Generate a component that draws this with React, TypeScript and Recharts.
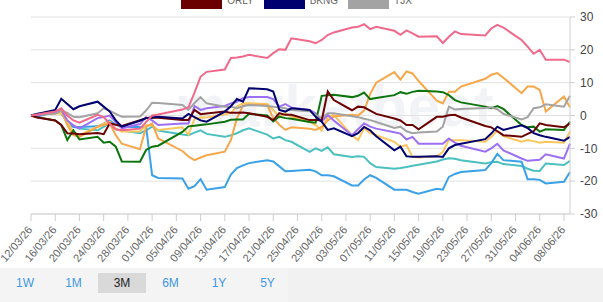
import React from 'react';
import { LineChart, Line, XAxis, YAxis, CartesianGrid } from 'recharts';

// trading sessions shown on the chart
const tradingDays = [
  '2026-03-12', '2026-03-13', '2026-03-16', '2026-03-17', '2026-03-18', '2026-03-19', '2026-03-20',
  '2026-03-23', '2026-03-24', '2026-03-25', '2026-03-26', '2026-03-27', '2026-03-30', '2026-03-31',
  '2026-04-01', '2026-04-02', '2026-04-06', '2026-04-07', '2026-04-08', '2026-04-09', '2026-04-10',
  '2026-04-13', '2026-04-14', '2026-04-15', '2026-04-16', '2026-04-17', '2026-04-20', '2026-04-21',
  '2026-04-22', '2026-04-23', '2026-04-24', '2026-04-27', '2026-04-28', '2026-04-29', '2026-04-30',
  '2026-05-01', '2026-05-04', '2026-05-05', '2026-05-06', '2026-05-07', '2026-05-08', '2026-05-11',
  '2026-05-12', '2026-05-13', '2026-05-14', '2026-05-15', '2026-05-18', '2026-05-19', '2026-05-20',
  '2026-05-21', '2026-05-22', '2026-05-26', '2026-05-27', '2026-05-28', '2026-05-29',
  '2026-06-01', '2026-06-02', '2026-06-03', '2026-06-04', '2026-06-05', '2026-06-08', '2026-06-09',
];

const tickLabels = [
  '12/03/26', '16/03/26', '20/03/26', '24/03/26', '28/03/26', '01/04/26', '05/04/26', '09/04/26',
  '13/04/26', '17/04/26', '21/04/26', '25/04/26', '29/04/26', '03/05/26', '07/05/26', '11/05/26',
  '15/05/26', '19/05/26', '23/05/26', '27/05/26', '31/05/26', '04/06/26', '08/06/26',
];

const yTicks = [-30, -20, -10, 0, 10, 20, 30];

// % change since the first session
const rose = [
  0, 0.3, 1.2, 2.2, 0, -1.5, -2.2, 0.2, -0.5, -2.5, -4.2, -4.5, -4, -2,
  0, 0.3, 1.8, 2.5, 7, 11.8, 13.3, 14, 17.5, 17.7, 18, 18.5, 17.5, 19, 20.2, 20, 23.5, 22.6, 22, 23, 24.5,
  25.3, 26.8, 27, 27.8, 26.3, 27, 25.8, 24.6, 25.9, 25, 24, 24.1, 22.1, 24, 25.6, 24.8, 24.4, 26.5, 27.6, 26.8,
  23, 21, 18.8, 20, 17, 17, 16.3,
];
const sky = [
  0, -0.3, 1.0, 1.5, -2.5, -3.5, -3.5, -3.3, -2.5, -1.5, -2.8, -3.5, -3.5, -3.4,
  -18.2, -19, -19.2, -22.3, -21.5, -19.4, -22.6, -21.8, -18, -16, -15.2, -14.5, -13.6, -14, -15.5, -17, -16.9, -16.5, -17, -18.2, -18.2,
  -18.5, -21.3, -21.3, -19.5, -18.2, -19, -22.6, -22.6, -22.6, -23.3, -23.8, -22.3, -22.6, -18.7, -17.8, -17.2, -16.6, -14.5, -11.7, -13.6,
  -14.1, -19.4, -19.4, -19.6, -20.7, -20.2, -17.2,
];
const amber = [
  0, 0.3, 1.2, 1.7, -3, -6, -6.5, -3.5, -2.9, -2.4, -6, -8.6, -10.3, -3.5,
  -2.4, -7, -10.8, -12.5, -13.6, -12.8, -12.1, -11, -7.5, -0.9, 3, 3.3, 3.2, -0.8, -2.8, -4.4, -3.6, -4, -4.4, -3.5, -1.5,
  -0.3, 0.2, 0, 1.5, 6.5, 10, 13.2, 10.9, 13.4, 12.8, 10.5, 4.5, 3.7, 7.2, 7.2, 8.8, 11.2, 12.4, 12.9, 11.5,
  6.8, 8.8, 8.8, 7.8, 1.2, 5.8, 2.5,
];
const green = [
  0, -0.5, -1.5, -2.9, -7.5, -4.5, -7.3, -6.5, -8.3, -8, -9.5, -14, -14.1, -10.5,
  -9.5, -9.2, -5, -3.3, -3.1, -2.9, -2.7, -1.9, -1.3, -1.2, -1.2, 0.5, 0, -1.8, -0.3, -0.8, -1, -2, -2.2, 6, 6.2,
  6.3, 5.6, 6, 7, 5, 5.3, 6.2, 7.1, 6.6, 7.2, 7.5, 7.3, 7.1, 6.2, 4.7, 4, 2.7, 2.2, 2.9, 2,
  -2.9, -3.6, -3.4, -4.9, -4.2, -4.4, -1.9,
];
const orly = [
  0, -0.6, -1.5, -2.9, -5.4, -5.5, -5.7, -5.3, -5.7, -2.4, -2.8, -3.2, -1.4, -0.8,
  -0.6, -0.7, -1.4, -1.4, 1.7, 0.4, 0.6, 1.2, 0.8, 0.8, 0.9, 0.7, -0.4, -1.4, 0.7, 0.2, 0.2, -1.4, -1.4, -1.5, 7.3,
  4.7, 1.6, 2.7, 2.5, 1.5, 0.5, -0.9, -1.5, -2.9, -2.9, -4.2, -0.4, -0.4, 0.1, 0.2, -0.6, -3.2, -3.6, -4.8, -6,
  -6.5, -5.6, -4.8, -2.4, -2.9, -3.6, -2.4,
];
const bkng = [
  0, 0.5, 1.7, 5.1, 3.5, 1.9, 2.8, 4.2, 2.7, 1.2, -1.5, -3.4, -1.6, -0.8,
  -0.6, -0.4, -0.9, 0.5, -0.5, -1.5, -1.9, 1.2, 2.8, 5, 4.2, 8.3, 8, 7.3, 1.7, 1.2, 2.2, 1.7, -0.4, -1.9, -4.4,
  -3.9, -6.3, -5.4, -3.5, -4.5, -6.3, -10.6, -9.5, -12.4, -12.6, -12.6, -12.4, -12.6, -10, -9, -8.6, -7.2, -5.5, -3.4, -4.4,
  -3, -3.8, -5.4, -6, -6.5, -7.7, -6.5,
];
const tjx = [
  0, 0.3, 0.5, 1.5, 0.8, -0.4, -0.5, 0.7, 2.2, 1.5, 0.5, -0.4, -0.3, 1.5,
  3.9, 3.8, 3.2, 1.7, 3.8, 5.6, 3.7, 2.7, 2.7, 2.2, 2.8, 3.2, 2.9, 2.7, 2.4, 2.2, 1.7, 1.3, 0.2, -0.8, 0.7,
  0.7, -0.2, -0.5, -1, -1.4, -2, -3.8, -3.4, -4.8, -5.4, -5.2, -4.9, -3.4, 2.7, 1.8, 2, 2.3, 2.5, 1.9, 0.5,
  -1.2, -0.5, 2.2, 2.5, 3.4, 2.7, 6,
];
const violet = [
  0, 0, 1, 1.8, -1.5, -3, -3.9, -0.8, -0.5, 0, -2, -3.9, -2.6, -0.5,
  -1.5, -2.9, -2.4, -2.4, 2.9, 1.7, 2.2, 2.9, 3.7, 4.2, 5.3, 5.6, 5.6, 5, 2.7, 3.5, 2.4, 1.7, 0.7, -1.9, 0.2,
  -1.5, -6, -4.2, -2.4, -3.4, -4, -5.1, -5.5, -7.3, -6.5, -8.6, -8.6, -8.6, -7, -8.3, -9.2, -11, -10, -8.6, -10.6,
  -13.1, -13.8, -13.6, -13.5, -11.8, -13.1, -8.6,
];
const teal = [
  0, 0.5, 1.2, 0.5, -2, -3.4, -4, -4.5, -3.5, -2.4, -4.2, -4.6, -5.4, -4.5,
  -3.4, -4.6, -5.8, -6, -5.2, -4.5, -5.6, -6.5, -6, -5.4, -4.5, -3.9, -5.8, -7, -6.5, -7.5, -8, -11.1, -10, -10.8, -9.7,
  -11.8, -12.6, -12.4, -12.6, -14.5, -15.7, -16.2, -16, -15.7, -15.3, -15, -14, -13.4, -13, -13.2, -13.6, -14.6, -14.2, -14.1, -14.8,
  -15.4, -16.2, -16.8, -16.9, -14.6, -15.1, -13.8,
];
const gold = [
  0, 0.3, 0.5, 0.7, -1.9, -5, -6, -3.4, -2.5, -1.9, -4, -4.9, -4.9, -3,
  -3, -4.4, -3.6, -5.8, -1, -0.6, -0.6, 0.4, 0.8, 2.7, 3.7, 3.7, 3.5, 1.7, -0.6, 0.7, -0.4, -1.9, -2.9, -4.6, -0.4,
  0.2, -6, -7.5, -3.9, -5.4, -6, -8, -9.5, -9, -12.6, -12.8, -12.4, -11.1, -7.5, -7.5, -7.5, -8, -6.5, -4.6, -6.3,
  -8, -7.5, -7.8, -8.3, -8, -8.3, -4.9,
];

const seriesList = [
  { key: 'teal', values: teal, color: '#4bc0c0' },
  { key: 'sky', values: sky, color: '#3aa1e8' },
  { key: 'gold', values: gold, color: '#fbc65e' },
  { key: 'amber', values: amber, color: '#f8a64a' },
  { key: 'violet', values: violet, color: '#9d6ff4' },
  { key: 'green', values: green, color: '#0b740b' },
  { key: 'tjx', values: tjx, color: '#a3a3a3' },
  { key: 'orly', values: orly, color: '#6b0000' },
  { key: 'bkng', values: bkng, color: '#00006e' },
  { key: 'rose', values: rose, color: '#f0698a' },
];

const legendItems = [
  { name: 'ORLY', color: '#6b0000' },
  { name: 'BKNG', color: '#00006e' },
  { name: 'TJX', color: '#a3a3a3' },
];

const ranges = ['1W', '1M', '3M', '6M', '1Y', '5Y'];
const activeRange = '3M';

const DAY = 86400000;
const start = Date.UTC(2026, 2, 12);
const isoToDay = (iso: string) => {
  const [y, m, d] = iso.split('-').map(Number);
  return Math.round((Date.UTC(y, m - 1, d) - start) / DAY);
};
const labelToDay = (label: string) => {
  const [d, m, y] = label.split('/').map(Number);
  return Math.round((Date.UTC(2000 + y, m - 1, d) - start) / DAY);
};

const data = tradingDays.map((iso, i) => {
  const row: Record<string, number> = { day: isoToDay(iso) };
  seriesList.forEach(s => { row[s.key] = s.values[i]; });
  return row;
});

const tickDays = tickLabels.map(labelToDay);
const labelByDay: Record<number, string> = {};
tickLabels.forEach((l, i) => { labelByDay[tickDays[i]] = l; });

const FONT = '"Liberation Sans", Arial, Helvetica, sans-serif';

const CHART_H = 268;
const X_AXIS_H = 54;
const LABEL_Y = CHART_H - X_AXIS_H + 16;

// slanted date labels hanging off each tick
const DateTick = (props: any) => {
  const { x, payload } = props;
  return (
    <g transform={`translate(${x + 2},${LABEL_Y})`}>
      <text x={0} y={0} textAnchor="end" transform="rotate(-50)" fill="#666" fontSize={11} fontFamily={FONT}>
        {labelByDay[payload.value]}
      </text>
    </g>
  );
};

const App = () => {
  return (
    <div style={{ position: 'absolute', left: 0, top: 0, width: 603, height: 302, background: '#fff', overflow: 'hidden', fontFamily: FONT }}>
      {/* watermark */}
      <div style={{ position: 'absolute', left: 175, top: 72, fontSize: 58, color: '#f2f3f6', fontWeight: 'bold', letterSpacing: 1 }}>
        marketbeat
      </div>

      {/* legend, only last row visible */}
      <div style={{ position: 'absolute', top: -6, left: 0, width: 603, display: 'flex', justifyContent: 'center', fontSize: 10, lineHeight: '14px', color: '#666' }}>
        {legendItems.map(item => (
          <div key={item.name} style={{ display: 'flex', alignItems: 'flex-start', marginRight: 10 }}>
            <div style={{ width: 41, height: 12, marginTop: 3, background: item.color, marginRight: 5 }} />
            <span>{item.name}</span>
          </div>
        ))}
      </div>

      <div style={{ position: 'absolute', left: 0, top: 0 }}>
        <LineChart width={603} height={CHART_H} data={data} margin={{ top: 17, right: 1, left: 31, bottom: 0 }}>
          <CartesianGrid horizontal vertical={false} stroke="#e2e2e2" />
          <XAxis
            dataKey="day"
            type="number"
            domain={[0, 89]}
            ticks={tickDays}
            interval={0}
            height={X_AXIS_H}
            stroke="#cfcfcf"
            tickSize={7}
            tick={<DateTick />}
          />
          <YAxis
            orientation="right"
            domain={[-30, 30]}
            ticks={yTicks}
            width={32}
            stroke="#cfcfcf"
            tickSize={5}
            tickMargin={5}
            tick={{ fill: '#444', fontSize: 12, fontFamily: FONT }}
          />
          {seriesList.map(s => (
            <Line
              key={s.key}
              dataKey={s.key}
              type="linear"
              stroke={s.color}
              strokeWidth={2}
              dot={false}
              isAnimationActive={false}
            />
          ))}
        </LineChart>
      </div>

      {/* range selector */}
      <div style={{ position: 'absolute', left: 0, top: 268, width: 603, height: 34, background: '#f1f1f1' }}>
        <div style={{ position: 'absolute', left: 0, top: 0, width: 288, height: 34, background: '#f4f4f4' }} />
        {ranges.map((r, i) => {
          const active = r === activeRange;
          return (
            <div
              key={r}
              style={{
                position: 'absolute',
                left: 98 + (i - 2) * 48.5,
                top: 5,
                width: 48,
                height: 20,
                lineHeight: '20px',
                textAlign: 'center',
                fontSize: 12,
                background: active ? '#d9d9d9' : 'transparent',
                color: active ? '#222' : '#3d97e6',
              }}
            >
              {r}
            </div>
          );
        })}
      </div>
    </div>
  );
};

export default App;
